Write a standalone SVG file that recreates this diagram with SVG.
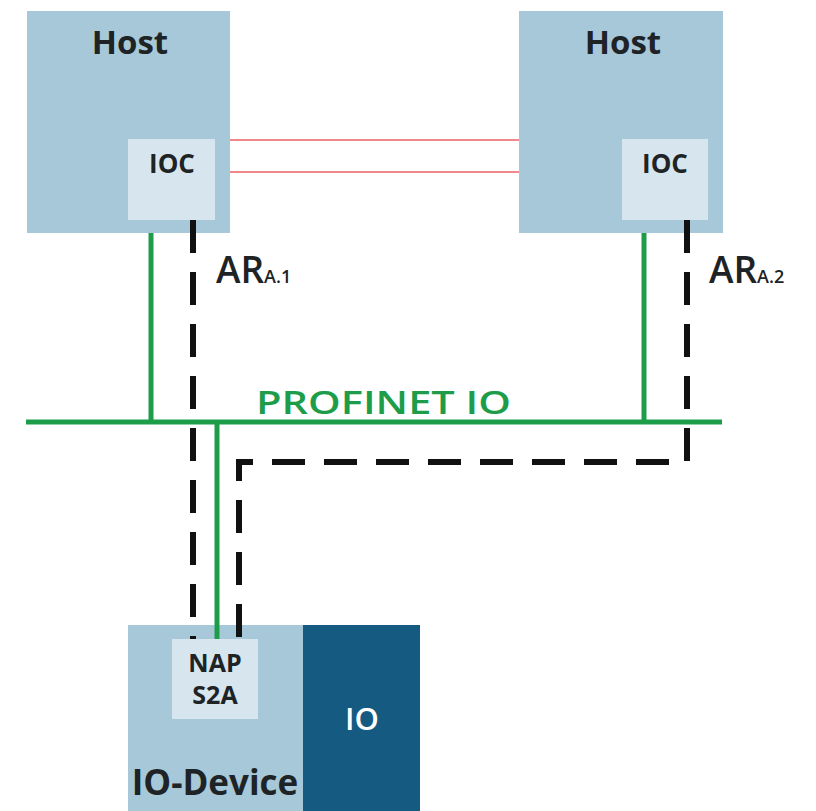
<svg xmlns="http://www.w3.org/2000/svg" width="816" height="811" viewBox="0 0 816 811">
<style>
.host{fill:#a7c8d8}
.ioc{fill:#d7e6ee}
.t{font-family:"Open Sans","Liberation Sans",sans-serif;font-weight:700;fill:#1e2326;text-anchor:middle}
.g{stroke:#1d9d4a;stroke-width:5;fill:none}
.d{stroke:#111;stroke-width:6;fill:none;stroke-dasharray:33 19}
.r{stroke:#f08a8a;stroke-width:2;fill:none}
.lb{font-family:"Open Sans","Liberation Sans",sans-serif;font-weight:600;fill:#1e2326}
</style>
<rect width="816" height="811" fill="#fff"/>
<g id="host1">
<rect class="host" x="27" y="11" width="203" height="222"/>
<text class="t" x="130" y="54" font-size="33">Host</text>
</g>
<g id="ioc1">
<rect class="ioc" x="128" y="139" width="87" height="81"/>
<text class="t" x="172" y="173" font-size="26">IOC</text>
</g>
<g id="host2">
<rect class="host" x="519" y="11" width="204" height="222"/>
<text class="t" x="623" y="54" font-size="33">Host</text>
</g>
<g id="ioc2">
<rect class="ioc" x="622" y="139" width="86" height="81"/>
<text class="t" x="665" y="173" font-size="26">IOC</text>
</g>
<g id="iodevice">
<rect class="host" x="128" y="625" width="176" height="186"/>
<text class="t" x="215" y="795" font-size="35">IO-Device</text>
</g>
<g id="io">
<rect x="303" y="625" width="117" height="186" fill="#145a81"/>
<text class="t" x="362" y="730" font-size="31" style="fill:#fff;font-weight:600">IO</text>
</g>
<g id="nap">
<rect class="ioc" x="172" y="639" width="86" height="80"/>
<text class="t" x="215" y="672" font-size="25">NAP</text>
<text class="t" x="215" y="704" font-size="25">S2A</text>
</g>
<g id="connectors">
<line class="r" x1="230" y1="140" x2="519" y2="140"/>
<line class="r" x1="230" y1="172" x2="519" y2="172"/>
<line class="g" x1="26" y1="422" x2="722" y2="422"/>
<line class="g" x1="151" y1="233" x2="151" y2="422"/>
<line class="g" x1="644" y1="233" x2="644" y2="422"/>
<line class="g" x1="217" y1="422" x2="217" y2="639"/>
<path class="d" d="M193,220 V639"/>
<path class="d" d="M687,220 V462 H239 V639"/>
</g>
<g id="labels">
<text x="256" y="414" font-family="Open Sans,Liberation Sans,sans-serif" font-weight="600" font-size="33" fill="#1d9d4a" textLength="255" lengthAdjust="spacingAndGlyphs">PROFINET IO</text>
<text class="lb" x="216" y="283" font-size="37">AR<tspan font-size="18">A.1</tspan></text>
<text class="lb" x="709" y="283" font-size="37">AR<tspan font-size="18">A.2</tspan></text>
</g>
</svg>
